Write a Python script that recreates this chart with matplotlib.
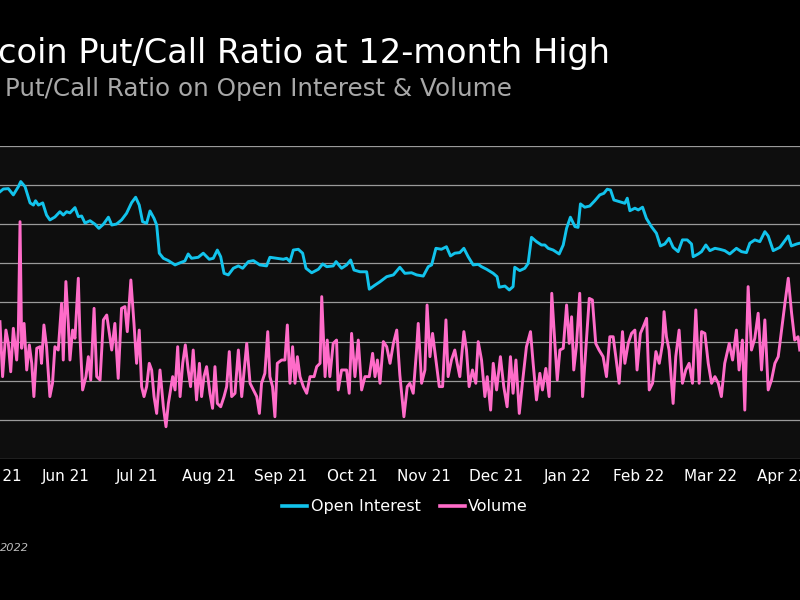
import matplotlib
matplotlib.use("Agg")
import matplotlib.pyplot as plt
import numpy as np

# ---- data (day offsets from first tick, put/call ratio) ----
oi_days = [2.5, 3.9, 6.0, 8.1, 10.2, 11.2, 13.0, 15.1, 16.5, 17.4, 18.6, 20.4, 22.0, 23.4, 25.5, 27.6, 29.0, 30.4,
           31.8, 33.9, 35.3, 36.7, 38.1, 40.2, 42.3, 43.9, 45.8, 47.9, 49.3, 51.3, 53.4, 55.5, 57.6, 59.3, 60.8, 62.2,
           63.9, 65.3, 67.0, 68.1, 69.2, 70.9, 73.0, 75.8, 77.9, 79.9, 81.3, 82.7, 85.5, 87.6, 90.1, 91.8, 93.5, 94.9,
           96.3, 98.1, 100.2, 102.3, 104.1, 106.5, 108.6, 111.3, 114.1, 115.5, 118.3, 121.1, 122.5, 123.9, 125.3,
           127.4, 129.2, 130.6, 133.0, 135.8, 137.6, 139.3, 142.0, 143.2, 145.5, 147.6, 149.3, 150.7, 153.2, 156.0,
           157.1, 159.5, 161.6, 164.4, 167.2, 169.9, 172.0, 174.8, 176.9, 179.7, 181.8, 183.2, 185.0, 187.3, 189.4,
           191.1, 192.9, 195.0, 196.7, 198.5, 200.6, 202.7, 204.1, 206.2, 209.0, 210.6, 211.5, 213.9, 215.7, 217.3,
           218.0, 220.1, 222.2, 223.6, 225.0, 227.1, 229.2, 230.6, 232.0, 234.1, 236.6, 238.3, 239.7, 241.3, 243.2,
           244.5, 245.5, 247.3, 249.4, 251.5, 253.6, 255.3, 256.7, 258.1, 259.5, 262.0, 264.1, 265.1, 266.2, 268.3,
           269.7, 271.5, 273.1, 275.2, 277.3, 279.0, 280.8, 282.6, 284.3, 286.4, 288.2, 290.2, 292.0, 292.7, 294.8,
           296.2, 298.0, 299.7, 301.8, 303.8, 305.9, 308.0, 310.8, 312.9, 315.0, 316.4, 318.5, 320.6, 322.7, 324.1,
           326.2, 329.0, 330.3, 332.5, 333.8, 336.0, 337.3]
oi_vals = [1.366, 1.380, 1.382, 1.350, 1.392, 1.418, 1.392, 1.309, 1.298, 1.320, 1.298, 1.309, 1.247, 1.222, 1.237,
           1.264, 1.247, 1.264, 1.258, 1.285, 1.239, 1.242, 1.206, 1.218, 1.200, 1.179, 1.200, 1.236, 1.196, 1.201,
           1.222, 1.256, 1.310, 1.338, 1.298, 1.213, 1.205, 1.268, 1.230, 1.196, 1.052, 1.026, 1.014, 0.992, 1.003,
           1.012, 1.048, 1.026, 1.031, 1.052, 1.021, 1.026, 1.068, 1.034, 0.949, 0.941, 0.975, 0.987, 0.975, 1.009,
           1.014, 0.992, 0.987, 1.031, 1.026, 1.021, 1.026, 1.009, 1.068, 1.072, 1.052, 0.975, 0.952, 0.970, 0.997,
           0.983, 0.987, 1.009, 0.975, 0.992, 1.017, 0.966, 0.957, 0.957, 0.868, 0.889, 0.906, 0.932, 0.941, 0.980,
           0.949, 0.952, 0.941, 0.935, 0.983, 0.992, 1.077, 1.072, 1.085, 1.038, 1.052, 1.055, 1.077, 1.034, 0.992,
           0.995, 0.983, 0.970, 0.949, 0.932, 0.878, 0.884, 0.864, 0.881, 0.980, 0.963, 0.975, 1.000, 1.133, 1.111,
           1.094, 1.094, 1.077, 1.068, 1.048, 1.094, 1.179, 1.236, 1.188, 1.184, 1.304, 1.287, 1.293, 1.320, 1.350,
           1.358, 1.379, 1.375, 1.324, 1.315, 1.307, 1.333, 1.269, 1.282, 1.273, 1.287, 1.230, 1.188, 1.154, 1.089,
           1.099, 1.128, 1.082, 1.060, 1.120, 1.120, 1.099, 1.034, 1.048, 1.060, 1.094, 1.065, 1.077, 1.072, 1.065,
           1.048, 1.077, 1.060, 1.055, 1.103, 1.120, 1.111, 1.162, 1.140, 1.065, 1.082, 1.103, 1.140, 1.089, 1.099,
           1.103]

vol_days = [2.5, 3.6, 5.0, 6.0, 7.0, 8.1, 9.5, 10.2, 10.9, 11.6, 12.6, 13.7, 14.8, 15.8, 16.7, 17.9, 19.3, 19.9,
            20.9, 22.0, 23.4, 24.5, 25.5, 26.9, 28.3, 29.0, 30.1, 31.1, 31.8, 32.9, 33.9, 35.3, 36.0, 37.1, 38.5,
            39.5, 40.5, 41.9, 43.0, 44.4, 45.8, 47.2, 49.3, 50.6, 52.0, 53.4, 54.8, 55.8, 57.3, 58.6, 59.7, 60.8,
            61.8, 62.8, 63.9, 65.0, 66.0, 67.0, 68.1, 69.5, 70.9, 72.0, 73.0, 74.8, 75.8, 76.9, 77.9, 79.0, 80.1,
            81.3, 82.3, 83.4, 84.8, 86.0, 86.9, 87.9, 89.0, 90.4, 91.5, 92.5, 93.5, 94.9, 96.3, 97.4, 98.5, 99.5,
            100.9, 102.3, 103.7, 105.8, 107.2, 108.6, 110.0, 111.1, 112.0, 113.4, 114.6, 115.5, 116.6, 117.6, 118.6,
            120.4, 121.8, 122.8, 123.9, 125.0, 126.0, 127.0, 128.1, 129.5, 130.9, 132.3, 134.0, 135.1, 136.5, 137.2,
            138.6, 139.5, 140.6, 142.0, 143.4, 144.1, 145.5, 147.6, 148.7, 149.7, 151.1, 152.5, 153.9, 155.3, 157.1,
            158.5, 159.5, 160.5, 161.6, 163.0, 164.4, 165.8, 167.2, 168.6, 169.9, 171.6, 173.0, 174.1, 175.5, 176.9,
            177.6, 179.0, 180.4, 181.3, 182.5, 183.6, 185.0, 186.4, 187.8, 189.2, 190.1, 191.5, 192.9, 193.9, 195.0,
            196.7, 197.8, 198.9, 200.3, 201.7, 202.7, 204.1, 205.5, 206.5, 207.9, 209.0, 210.4, 212.0, 213.4, 214.8,
            216.2, 217.3, 218.5, 219.9, 221.2, 222.9, 224.6, 225.7, 227.1, 228.5, 229.6, 231.0, 232.4, 233.5, 234.8,
            235.8, 236.9, 238.3, 239.7, 240.8, 241.8, 242.7, 243.8, 245.2, 246.4, 247.8, 249.2, 250.5, 251.9, 253.3,
            255.0, 256.4, 257.8, 259.2, 260.3, 261.7, 263.1, 264.1, 265.5, 266.9, 268.3, 269.2, 270.6, 271.8, 273.2,
            274.3, 275.7, 277.1, 278.5, 279.9, 280.5, 281.5, 282.6, 284.3, 285.4, 286.8, 288.2, 289.6, 291.0, 292.4,
            293.8, 295.2, 296.2, 297.6, 299.0, 300.4, 301.8, 303.2, 304.5, 305.9, 307.8, 309.2, 310.8, 311.9, 313.3,
            314.3, 315.7, 317.1, 318.5, 319.9, 321.3, 322.7, 324.1, 325.5, 326.9, 328.3, 329.7, 331.1, 332.5, 333.9,
            335.2, 336.6, 337.3]
vol_vals = [0.702, 0.421, 0.659, 0.591, 0.446, 0.668, 0.506, 0.659, 1.213, 0.566, 0.693, 0.455, 0.583, 0.489, 0.319,
            0.566, 0.574, 0.489, 0.685, 0.574, 0.319, 0.387, 0.574, 0.557, 0.796, 0.506, 0.907, 0.693, 0.506, 0.659,
            0.617, 0.924, 0.625, 0.353, 0.421, 0.523, 0.404, 0.770, 0.421, 0.404, 0.711, 0.736, 0.557, 0.693, 0.412,
            0.770, 0.779, 0.651, 0.915, 0.693, 0.489, 0.659, 0.370, 0.319, 0.370, 0.489, 0.455, 0.319, 0.233, 0.455,
            0.267, 0.165, 0.284, 0.421, 0.353, 0.574, 0.319, 0.489, 0.583, 0.455, 0.370, 0.557, 0.302, 0.489, 0.319,
            0.421, 0.472, 0.336, 0.259, 0.472, 0.284, 0.267, 0.319, 0.370, 0.549, 0.319, 0.336, 0.557, 0.319, 0.591,
            0.387, 0.353, 0.319, 0.233, 0.387, 0.438, 0.651, 0.421, 0.370, 0.216, 0.489, 0.506, 0.506, 0.685, 0.387,
            0.574, 0.387, 0.523, 0.421, 0.370, 0.336, 0.421, 0.421, 0.472, 0.489, 0.830, 0.421, 0.608, 0.421, 0.591,
            0.608, 0.353, 0.455, 0.455, 0.336, 0.642, 0.421, 0.608, 0.353, 0.421, 0.421, 0.540, 0.421, 0.506, 0.387,
            0.600, 0.574, 0.489, 0.591, 0.659, 0.429, 0.216, 0.370, 0.387, 0.336, 0.557, 0.693, 0.387, 0.455, 0.787,
            0.523, 0.642, 0.506, 0.370, 0.370, 0.711, 0.421, 0.506, 0.557, 0.489, 0.421, 0.651, 0.557, 0.370, 0.455,
            0.387, 0.600, 0.506, 0.319, 0.421, 0.250, 0.489, 0.353, 0.523, 0.370, 0.267, 0.523, 0.336, 0.506, 0.233,
            0.387, 0.574, 0.651, 0.489, 0.302, 0.438, 0.353, 0.463, 0.319, 0.847, 0.591, 0.404, 0.557, 0.566, 0.787,
            0.591, 0.727, 0.455, 0.574, 0.847, 0.319, 0.574, 0.821, 0.813, 0.591, 0.557, 0.523, 0.421, 0.625, 0.625,
            0.523, 0.387, 0.651, 0.489, 0.591, 0.642, 0.659, 0.455, 0.642, 0.676, 0.719, 0.353, 0.387, 0.549, 0.489,
            0.591, 0.753, 0.625, 0.557, 0.284, 0.523, 0.659, 0.387, 0.455, 0.489, 0.387, 0.762, 0.387, 0.651, 0.642,
            0.489, 0.387, 0.421, 0.387, 0.319, 0.489, 0.591, 0.506, 0.659, 0.455, 0.608, 0.250, 0.881, 0.557, 0.617,
            0.745, 0.455, 0.711, 0.353, 0.404, 0.489, 0.523, 0.659, 0.796, 0.924, 0.745, 0.608, 0.625, 0.557]

tick_days = [0, 30, 60, 90, 120, 150, 180, 210, 240, 270, 300, 330]
tick_labels = ["May 21", "Jun 21", "Jul 21", "Aug 21", "Sep 21", "Oct 21", "Nov 21", "Dec 21",
               "Jan 22", "Feb 22", "Mar 22", "Apr 22"]
y_ticks = [0, 0.2, 0.4, 0.6, 0.8, 1.0, 1.2, 1.4, 1.6]

FONT = ["DejaVu Sans"]
CYAN = "#12C3EC"
PINK = "#FF6CC9"

fig = plt.figure(figsize=(8, 6), dpi=100, facecolor="black")
ax = fig.add_axes([-0.0125, 0.235, 1.025, 0.5217])
ax.set_facecolor("#0e0e0e")

ax.plot(oi_days, oi_vals, color=CYAN, lw=2.1, label="Open Interest", solid_joinstyle="round")
ax.plot(vol_days, vol_vals, color=PINK, lw=2.1, label="Volume", solid_joinstyle="round")

ax.set_xlim(-1.67, 341.6)
ax.set_ylim(0, 1.6)
ax.set_yticks(y_ticks)
ax.set_yticklabels([])
ax.yaxis.grid(True, color="#9a9a9a", lw=0.9)
ax.set_axisbelow(True)
ax.set_xticks(tick_days)
ax.set_xticklabels(tick_labels, color="white", fontsize=11, family=FONT)
ax.tick_params(axis="both", length=0, pad=7.5)
for s in ax.spines.values():
    s.set_visible(False)

leg = ax.legend(loc="center", bbox_to_anchor=(0.506, -0.153), ncol=2, frameon=False,
                handlelength=1.6, handletextpad=0.2, columnspacing=1.2,
                prop={"family": FONT, "size": 11.5})
for t in leg.get_texts():
    t.set_color("white")
for h in leg.get_lines():
    h.set_linewidth(2.6)

fig.text(-0.003, 0.895, "coin Put/Call Ratio at 12-month High", color="white", fontsize=24.2,
         family=FONT, va="baseline", ha="left")
fig.text(0.006, 0.84, "Put/Call Ratio on Open Interest & Volume", color="#a8a8a8", fontsize=17.7,
         family=FONT, va="baseline", ha="left")
fig.text(0.0, 0.082, "2022", color="#bdbdbd", fontsize=8.2, style="italic", family=FONT,
         va="baseline", ha="left")

fig.savefig("out.png", dpi=100, facecolor="black")
